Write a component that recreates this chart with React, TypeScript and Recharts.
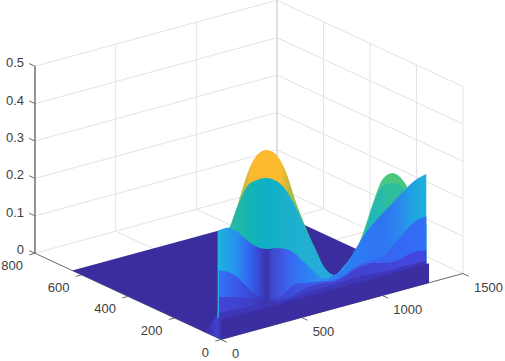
import React from 'react';
import { Area, ComposedChart, Line, Scatter, XAxis, YAxis } from 'recharts';

const xTicks = [0, 500, 1000, 1500];
const yTicks = [0, 200, 400, 600, 800];
const zTicks = [0, 0.1, 0.2, 0.3, 0.4, 0.5];
const zTickLabels = ['0', '0.1', '0.2', '0.3', '0.4', '0.5'];

const xCuts = [0, 60, 120, 180, 240, 300, 360, 420, 480, 540, 600, 660, 720, 780, 840, 900, 960, 1020, 1080, 1140, 1200, 1290];
const yellowRidge = [0.263, 0.277, 0.342, 0.418, 0.461, 0.468, 0.448, 0.395, 0.31, 0.236, 0.171, 0.11, 0.084, 0.099, 0.124, 0.178, 0.249, 0.306, 0.315, 0.291, 0.242, 0.151];
const tealRidge = [0.236, 0.277, 0.339, 0.386, 0.395, 0.393, 0.378, 0.347, 0.294, 0.228, 0.163, 0.11, 0.084, 0.101, 0.129, 0.167, 0.241, 0.287, 0.288, 0.27, 0.228, 0.151];
const blueRidge = [0.287, 0.288, 0.27, 0.241, 0.216, 0.203, 0.199, 0.189, 0.169, 0.137, 0.106, 0.081, 0.084, 0.096, 0.132, 0.167, 0.193, 0.215, 0.234, 0.254, 0.274, 0.287];
const midRidge = [0.182, 0.17, 0.149, 0.116, 0.087, 0.07, 0.063, 0.074, 0.089, 0.084, 0.08, 0.075, 0.071, 0.077, 0.089, 0.095, 0.096, 0.097, 0.12, 0.142, 0.164, 0.175];
const lowRidge = [0.11, 0.103, 0.096, 0.086, 0.076, 0.067, 0.057, 0.053, 0.064, 0.071, 0.072, 0.07, 0.066, 0.072, 0.083, 0.087, 0.088, 0.081, 0.077, 0.08, 0.087, 0.084];
const footRidge = [0.068, 0.066, 0.064, 0.062, 0.06, 0.058, 0.056, 0.055, 0.056, 0.058, 0.058, 0.058, 0.058, 0.06, 0.062, 0.062, 0.06, 0.058, 0.056, 0.056, 0.056, 0.056];
const stripCuts = [0, 1290];
const stripValues = [0.052, 0.052];
const cornerCuts = [12, 20, 40, 60, 80];
const cornerValues = [0.09, 0.06, 0.035, 0.01, 0];
const floorX = 1290;
const floorY = 640;

const yellowStops: [number, string][] = [[0.05, '#3fb8a0'], [0.08, '#62c272'], [0.12, '#c6b93f'], [0.16, '#fbb92f'], [0.3, '#fdbb2f'], [0.345, '#b9b93e'], [0.39, '#57c27a'], [0.44, '#20b5b0'], [0.77, '#43c88a'], [0.83, '#4cc77a'], [1, '#3cc48a']];
const tealStops: [number, string][] = [[0.05, '#2dbb9c'], [0.15, '#14b3b4'], [0.24, '#0fb0c8'], [0.4, '#22b0d0'], [0.55, '#27a8e0'], [0.72, '#1fb4c0'], [0.83, '#2ebe98'], [1, '#25b8b0']];
const blueStops: [number, string][] = [[0, '#1fb0e0'], [0.04, '#1ea4e3'], [0.09, '#2a8ff0'], [0.15, '#3366f0'], [0.2, '#3a45d0'], [0.225, '#3a35b0'], [0.24, '#3a35b0'], [0.26, '#3d4acb'], [0.32, '#3f5cec'], [0.39, '#2e78f5'], [0.49, '#2d8ef0'], [0.56, '#2c7cf5'], [0.63, '#2c7ef3'], [0.78, '#2f74f2'], [0.87, '#2d85ef'], [0.94, '#20a5e0'], [1, '#1cb0dc']];
const midStops: [number, string][] = [[0, '#3173f5'], [0.1, '#3c55e8'], [0.19, '#3a3fc4'], [0.23, '#3a35b0'], [0.27, '#3c40c8'], [0.39, '#3d55e2'], [0.63, '#3f5ce8'], [0.87, '#3467f5'], [1, '#3170f5']];
const lowStops: [number, string][] = [[0, '#4346d8'], [0.15, '#3f3fc8'], [0.23, '#3b32a8'], [0.35, '#3f3fc8'], [0.7, '#4143d0'], [1, '#4348e0']];
const cornerStops: [number, string][] = [[0, '#3a2d9e'], [0.6, '#3c38bc'], [1, '#4143d4']];

const project = (x: number, y: number, z: number) => ({
  sx: 221 + x * 0.1613 - y * 0.2325,
  sy: 339.5 - x * 0.044 - y * 0.1078 - z * 374,
});

const segment = (...pts: [number, number, number][]) => pts.map(p => project(p[0], p[1], p[2]));

// one wall of the surface, from its ridge down to the floor
const wall = (cuts: number[], values: number[], y: number) =>
  cuts.map((x, i) => {
    const top = project(x, y, values[i]);
    return { sx: top.sx, band: [top.sy, project(x, y, 0).sy] };
  });

// same along the left side, running in y
const sideWall = (cuts: number[], values: number[]) =>
  cuts
    .map((y, i) => {
      const top = project(0, y, values[i]);
      return { sx: top.sx, band: [top.sy, project(0, y, 0).sy] };
    })
    .reverse();

const lerp = (pts: { sx: number; sy: number }[], sx: number) => {
  for (let i = 1; i < pts.length; i++) {
    if (sx <= pts[i].sx) {
      const t = (sx - pts[i - 1].sx) / (pts[i].sx - pts[i - 1].sx);
      return pts[i - 1].sy + t * (pts[i].sy - pts[i - 1].sy);
    }
  }
  return pts[pts.length - 1].sy;
};

const buildFloor = () => {
  const upper = segment([0, floorY, 0], [floorX, floorY, 0], [floorX, 0, 0]);
  const lower = segment([0, floorY, 0], [0, 0, 0], [floorX, 0, 0]);
  const cuts = [upper[0].sx, lower[1].sx, upper[1].sx, upper[2].sx];
  return cuts.map(sx => ({ sx, band: [lerp(upper, sx), lerp(lower, sx)] }));
};

const gridLines = [
  ...zTicks.map(z => segment([0, 800, z], [1500, 800, z], [1500, 0, z])),
  ...xTicks.slice(1, 3).map(x => segment([x, 800, 0], [x, 800, 0.5])),
  ...yTicks.slice(1, 4).map(y => segment([1500, y, 0], [1500, y, 0.5])),
  segment([1500, 0, 0], [1500, 0, 0.5]),
  ...xTicks.slice(1, 3).map(x => segment([x, 0, 0], [x, 800, 0])),
  ...yTicks.slice(1, 4).map(y => segment([0, y, 0], [1500, y, 0])),
];

const axisLines = [
  segment([0, 800, 0], [0, 0, 0]),
  segment([0, 0, 0], [1500, 0, 0]),
  ...xTicks.map(x => segment([x, 0, 0], [x, -25, 0])),
  ...yTicks.map(y => segment([-35, y, 0], [0, y, 0])),
  ...zTicks.map(z => segment([0, 825, z], [0, 800, z])),
];

const zAxisLine = segment([0, 800, 0], [0, 800, 0.5]);
const backCorner = segment([1500, 800, 0], [1500, 800, 0.5]);
const leftRim = segment([0, 12, 0.055], [0, 12, 0.285]);

const labels = [
  ...xTicks.map(x => ({ ...project(x, 0, 0), text: String(x), dx: 11, dy: 18, anchor: 'start' })),
  ...yTicks.map(y => ({ ...project(0, y, 0), text: String(y), dx: -12, dy: 17, anchor: 'end' })),
  ...zTicks.map((z, i) => ({ ...project(0, 800, z), text: zTickLabels[i], dx: -11, dy: 1, anchor: 'end' })),
];

const TickText = (props: any) => {
  const { cx, cy, payload } = props;
  return (
    <text x={cx + payload.dx} y={cy + payload.dy} textAnchor={payload.anchor} fontSize={13} fontFamily="'Liberation Sans', Arial, sans-serif" fill="#404040">
      {payload.text}
    </text>
  );
};

const Gradient = ({ id, stops }: { id: string; stops: [number, string][] }) => (
  <linearGradient id={id} x1="0" y1="0" x2="1" y2="0">
    {stops.map(([offset, color]) => (
      <stop key={offset} offset={offset} stopColor={color} />
    ))}
  </linearGradient>
);

const App = () => (
  <div style={{ position: 'absolute', left: 0, top: 0 }}>
    <ComposedChart width={505} height={361} margin={{ top: 0, right: 0, bottom: 0, left: 0 }} data={[]}>
      <defs>
        <Gradient id="yellow" stops={yellowStops} />
        <Gradient id="teal" stops={tealStops} />
        <Gradient id="blue" stops={blueStops} />
        <Gradient id="mid" stops={midStops} />
        <Gradient id="low" stops={lowStops} />
        <Gradient id="corner" stops={cornerStops} />
      </defs>
      <XAxis type="number" dataKey="sx" domain={[0, 505]} hide />
      <YAxis type="number" domain={[0, 361]} reversed hide />

      {gridLines.map((pts, i) => (
        <Line key={`grid${i}`} data={pts} dataKey="sy" stroke="#e3e3e3" strokeWidth={1} dot={false} activeDot={false} isAnimationActive={false} zIndex={10} />
      ))}
      <Line data={backCorner} dataKey="sy" stroke="#d6d6d6" strokeWidth={1.5} dot={false} activeDot={false} isAnimationActive={false} zIndex={10} />
      {axisLines.map((pts, i) => (
        <Line key={`axis${i}`} data={pts} dataKey="sy" stroke="#6a6a6a" strokeWidth={1} dot={false} activeDot={false} isAnimationActive={false} zIndex={11} />
      ))}
      <Line data={zAxisLine} dataKey="sy" stroke="#777777" strokeWidth={1.6} dot={false} activeDot={false} isAnimationActive={false} zIndex={11} />

      <Area data={buildFloor()} dataKey="band" type="linear" fill="#3a2d9e" fillOpacity={1} stroke="none" isAnimationActive={false} zIndex={20} />
      <Area data={sideWall(cornerCuts, cornerValues)} dataKey="band" type="monotone" fill="url(#corner)" fillOpacity={1} stroke="none" isAnimationActive={false} zIndex={21} />
      <Area data={wall(xCuts, yellowRidge, 12)} dataKey="band" type="monotone" fill="url(#yellow)" fillOpacity={1} stroke="none" isAnimationActive={false} zIndex={22} />
      <Area data={wall(xCuts, tealRidge, 12)} dataKey="band" type="monotone" fill="url(#teal)" fillOpacity={1} stroke="none" isAnimationActive={false} zIndex={23} />
      <Area data={wall(xCuts, blueRidge, 12)} dataKey="band" type="monotone" fill="url(#blue)" fillOpacity={1} stroke="none" isAnimationActive={false} zIndex={24} />
      <Area data={wall(xCuts, midRidge, 12)} dataKey="band" type="monotone" fill="url(#mid)" fillOpacity={1} stroke="none" isAnimationActive={false} zIndex={25} />
      <Area data={wall(xCuts, lowRidge, 12)} dataKey="band" type="monotone" fill="url(#low)" fillOpacity={1} stroke="none" isAnimationActive={false} zIndex={26} />
      <Area data={wall(xCuts, footRidge, 12)} dataKey="band" type="monotone" fill="#3d36b8" fillOpacity={1} stroke="none" isAnimationActive={false} zIndex={27} />
      <Line data={leftRim} dataKey="sy" stroke="#28b6dc" strokeWidth={1.2} dot={false} activeDot={false} isAnimationActive={false} zIndex={27} />
      <Area data={wall(stripCuts, stripValues, 0)} dataKey="band" type="linear" fill="#3a2ea0" fillOpacity={1} stroke="none" isAnimationActive={false} zIndex={28} />

      <Scatter data={labels} dataKey="sy" shape={TickText} isAnimationActive={false} zIndex={30} />
    </ComposedChart>
  </div>
);

export default App;
